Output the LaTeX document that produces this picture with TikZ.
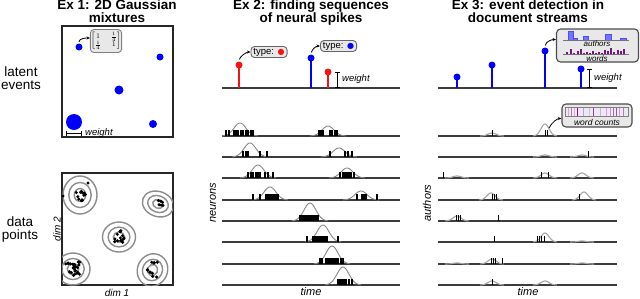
\documentclass[tikz,border=0pt]{standalone}
\usepackage{amsmath}
\usepackage{fontspec}
\setmainfont{Liberation Sans}
\newfontfamily\dejavu{DejaVu Sans}
\usetikzlibrary{arrows.meta}
\definecolor{myblue}{RGB}{0,0,255}
\definecolor{myred}{RGB}{245,20,20}
\definecolor{basec}{RGB}{60,60,60}
\definecolor{bumpc}{RGB}{135,135,135}
\definecolor{bumpl}{RGB}{165,165,165}
\definecolor{purp}{RGB}{120,20,130}
\definecolor{boxfill}{RGB}{232,232,232}
\newcommand\spikes[3]{\foreach \xx in {#2} \draw[#3] (\xx,#1) -- ++(0,-6.5);}
\newcommand\pbump[5]{\draw[#5] plot[domain=#2-3*#4:#2+3*#4, samples=40, smooth] (\x,{#1-#3*exp(-((\x-#2)/#4)^2/2)});}
\newcommand\clust[8]{%
  \begin{scope}[rotate around={#5:(#1,#2)}]
    \foreach \s in {1,0.66,0.34} \draw[ring] (#1,#2) ellipse [x radius=\s*#3, y radius=\s*#4];
  \end{scope}
  \foreach \i in {1,...,#6}{%
    \pgfmathsetmacro\dx{rand*#7}%
    \pgfmathsetmacro\dy{rand*#8}%
    \fill (#1+\dx,#2+\dy) circle (1.7);}}
\begin{document}
\begin{tikzpicture}[x=1pt,y=-1pt,
  title/.style={font=\fontsize{13.5}{13}\selectfont\bfseries, align=center, anchor=north, inner sep=0},
  rowlab/.style={font=\fontsize{13.5}{13}\selectfont, align=center, inner sep=0},
  axlab/.style={font=\fontsize{11}{11}\selectfont\itshape, inner sep=0},
  dimlab/.style={font=\fontsize{10}{10}\selectfont\itshape, inner sep=0},
  wlab/.style={font=\fontsize{9.5}{10}\selectfont\itshape, inner sep=0, anchor=west},
  frame/.style={draw=black!85, line width=1.1},
  base/.style={draw=basec, line width=1.1},
  bumpline/.style={draw=bumpc, line width=0.9},
  bumplight/.style={draw=bumpl, line width=1.1},
  spk/.style={black, line width=1.3},
  spkthin/.style={black, line width=0.9},
  ring/.style={draw=black!45, line width=1.4},
  bdot/.style={circle, fill=myblue, inner sep=0, minimum size=7},
  rdot/.style={circle, fill=myred, inner sep=0, minimum size=7},
  stemb/.style={draw=myblue, line width=1.6},
  stemr/.style={draw=myred, line width=1.6},
  arr/.style={-{Stealth[length=3.5pt,width=3pt]}, line width=0.8, black},
  wbar/.style={{Bar[width=5pt]}-{Bar[width=5pt]}, line width=0.9, black},
  typebox/.style={draw=black!60, fill=boxfill, rounded corners=3.5, line width=0.9, inner xsep=2.5, inner ysep=1, minimum height=11, font=\fontsize{9.5}{10}\selectfont},
  bigbox/.style={draw=black!70, fill=boxfill, rounded corners=4, line width=1.1, inner sep=0}
]
\useasboundingbox (0,0) rectangle (640,298);

% titles
\node[title] (t1) at (117,-0.5) {Ex 1: 2D Gaussian\\mixtures};
\node[title] (t2) at (311,-0.5) {Ex 2: finding sequences\\of neural spikes};
\node[title] (t3) at (528,-0.5) {Ex 3: event detection in\\document streams};

% row labels
\node[rowlab] (l1) at (21,78.5) {latent\\events};
\node[rowlab] (l2) at (20,230) {data\\points};

% ---------- panel 1 top ----------
\draw[frame] (62,26) rectangle (173,137);
\node[bdot, minimum size=7] (d1) at (79,47) {};
\node[bdot, minimum size=7] (d2) at (160,57) {};
\node[bdot, minimum size=9] (d3) at (119,90) {};
\node[bdot, minimum size=16] (d4) at (74,122) {};
\node[bdot, minimum size=8] (d5) at (153,124) {};
\node[draw=black!50, fill=boxfill, rounded corners=3.5, line width=0.9, minimum width=30, minimum height=23, inner sep=0.5,
      font=\fontsize{7}{8}\selectfont] (mb) at (106,41)
  {$\left[\begin{matrix}1&\frac{1}{4}\\\frac{1}{4}&1\end{matrix}\right]$};
\draw[arr, shorten <=1.5pt] (d1.north) .. controls +(0,-5) and +(-4,0) .. ([yshift=3pt]mb.west);
\coordinate (w1a) at (66,133);
\coordinate (w1b) at (82,133);
\draw[wbar] (w1a) -- (w1b);
\node[wlab] (w1) at (85,133) {weight};

% ---------- panel 1 bottom ----------
\draw[frame] (62,173) rectangle (173,285);
\begin{scope}
  \clip (62,173) rectangle (173,285);
  \pgfmathsetseed{11}
  \clust{80}{195}{17}{19}{0}{12}{6}{7}
  \clust{158}{204}{16}{12.5}{-20}{6}{5}{4}
  \clust{119}{237}{16.5}{15}{0}{15}{5.5}{7.5}
  \clust{73}{269}{17}{16}{0}{26}{7.5}{7.5}
  \clust{152.5}{270}{15}{16.5}{-25}{11}{5}{8}
  \fill (63,196) circle (1.7);
  \fill (88,183) circle (1.7);
\end{scope}
\node[dimlab, rotate=90] (dim2) at (57,229) {dim 2};
\node[dimlab] (dim1) at (117,293) {dim 1};

% ---------- panel 2 top ----------
\draw[base] (222,88) -- (400,88);
\draw[stemr] (239,88) -- (239,65);
\draw[stemb] (311,88) -- (311,58);
\draw[stemr] (328,88) -- (328,72);
\node[rdot] (r1) at (239,65) {};
\node[bdot] (b1) at (311,58) {};
\node[rdot] (r2) at (328,72) {};
\node[typebox] (tr) at (269,52) {type: \textcolor{myred}{\dejavu\fontsize{8}{8}\selectfont ●}};
\node[typebox] (tb) at (338.5,46) {type: \textcolor{myblue}{\dejavu\fontsize{8}{8}\selectfont ●}};
\draw[arr, shorten <=2pt] (r1.north) .. controls +(1,-5) and +(-4,0) .. (tr.west);
\draw[arr, shorten <=2pt] (b1.north) .. controls +(1,-5) and +(-4,0) .. (tb.west);
\coordinate (w2a) at (337,72);
\coordinate (w2b) at (337,88);
\draw[wbar] (w2a) -- (w2b);
\node[wlab] (w2) at (342,79) {weight};

% ---------- panel 2 rows ----------
\foreach \y in {136,157,178,200,221,242,264,285} \draw[base] (222,\y) -- (400,\y);
\pbump{136}{240}{13}{6}{bumpline}
\pbump{136}{328}{10}{6}{bumpline}
\pbump{157}{250}{14}{6}{bumpline}
\pbump{157}{339}{9}{6}{bumpline}
\pbump{178}{258}{13}{6}{bumpline}
\pbump{178}{347}{10}{6}{bumpline}
\pbump{200}{270}{13}{6}{bumpline}
\pbump{200}{361}{9}{6}{bumpline}
\pbump{221}{310}{18}{6}{bumpline}
\pbump{242}{323}{17}{6}{bumpline}
\pbump{264}{332}{18}{6}{bumpline}
\pbump{285}{343}{18}{6}{bumpline}
\spikes{136}{226,229,234,236,238,241,243,246,248,251,253,319,321,323,330,332,335,337}{spk}
\spikes{157}{243,246,248,260,267,330,345,348,352}{spk}
\spikes{178}{248,251,253,256,258,260,265,268,273,340,343,345,347,349,351,354}{spk}
\spikes{200}{253,260,266,268,270,272,274,276,278,357,362,364,366,377}{spk}
\spikes{221}{300,302,304,306,308,310,312,314,316,318}{spk}
\spikes{242}{307,313,315,317,319,321,323,325,327,338}{spk}
\spikes{264}{320,322,326,328,330,332,334,336,338,341,343}{spk}
\spikes{285}{338,340,342,344,346,349,352}{spk}
\node[axlab, rotate=90] (neu) at (213,203) {neurons};
\node[axlab] (time2) at (311,292) {time};

% ---------- panel 3 top ----------
\draw[base] (438,88) -- (617,88);
\draw[stemb] (457,88) -- (457,77);
\draw[stemb] (492,88) -- (492,65);
\draw[stemb] (545,88) -- (545,51);
\draw[stemb] (581,88) -- (581,69);
\node[bdot] (e1) at (457,77) {};
\node[bdot] (e2) at (492,65) {};
\node[bdot] (e3) at (545,51) {};
\node[bdot] (e4) at (581,69) {};
\coordinate (w3a) at (589,69);
\coordinate (w3b) at (589,88);
\draw[wbar] (w3a) -- (w3b);
\node[wlab] (w3) at (594,78) {weight};

\node[bigbox, minimum width=82, minimum height=33] (bb) at (597.5,45.5) {};
\draw[arr, shorten <=2pt] (e3.north) .. controls +(1,-6) and +(-4,0) .. ([yshift=6pt]bb.west);
% authors histogram
\foreach \a/\b/\h in {568/573/9,573/577/1.5,583/588/3.5,605/611/6,620/626/2}
  \fill[myblue!55, draw=myblue!70, line width=0.3] (\a,40) rectangle (\b,40-\h);
\draw[black!55, line width=0.8] (563,40) -- (629,40);
\node[font=\fontsize{8}{8}\selectfont\itshape, inner sep=0] (aut) at (597,44) {authors};
% words histogram
\foreach \x/\h in {567/2,571/5,574/1,578/3,581/5,584/1,587/2,590/1,593/3,596/1,599/2,602/1,605/4,608/3,611/6,614/2,618/4,621/3,624/5}
  \fill[purp] (\x-0.6,54) rectangle (\x+0.6,54-\h);
\draw[black!55, line width=0.8] (563,54) -- (629,54);
\node[font=\fontsize{8}{8}\selectfont\itshape, inner sep=0] (wor) at (597,59) {words};

% ---------- panel 3 rows ----------
\foreach \y in {136,157,178,200,221,242,264,285} \draw[base] (438,\y) -- (617,\y);
\pbump{136}{492}{3}{4}{bumplight}
\pbump{136}{545}{12}{4}{bumplight}
\pbump{157}{545}{2}{4}{bumplight}
\pbump{157}{582}{2}{4}{bumplight}
\pbump{178}{457}{2}{4}{bumplight}
\pbump{178}{545}{5}{4}{bumplight}
\pbump{178}{582}{5}{4}{bumplight}
\pbump{200}{491}{7}{4}{bumplight}
\pbump{200}{584}{8}{4}{bumplight}
\pbump{221}{457}{5}{4}{bumplight}
\pbump{242}{545}{9}{4}{bumplight}
\pbump{242}{582}{1}{4}{bumplight}
\pbump{264}{457}{1}{4}{bumplight}
\pbump{264}{492}{5}{4}{bumplight}
\pbump{264}{582}{1}{4}{bumplight}
\pbump{285}{492}{4}{4}{bumplight}
\pbump{285}{545}{4}{4}{bumplight}
\spikes{136}{492,545,547}{spkthin}
\spikes{157}{588}{spkthin}
\spikes{178}{443,541,548}{spkthin}
\spikes{200}{492,494,496,579}{spkthin}
\spikes{221}{456,458,460,498}{spkthin}
\spikes{242}{494,537,539,541,544}{spkthin}
\spikes{264}{491,493,495,502}{spkthin}
\spikes{285}{492}{spkthin}
\node[axlab, rotate=90] (aut2) at (427,203) {authors};
\node[axlab] (time3) at (528,292) {time};

% word counts box
\node[bigbox, minimum width=70, minimum height=23] (wc) at (597,115.5) {};
\fill[myblue!8!purp!10] (565,107) rectangle (628,116);
\foreach \x/\o in {568/0.3,571/0.5,574/0.25,577/1,583/0.35,589/0.2,593/0.8,600/0.25,606/0.3,610/0.4,613/0.6,616/0.7,619/0.35,623/0.5}
  \draw[purp, opacity=\o, line width=0.9] (\x,107) -- (\x,116);
\draw[black!50, line width=0.5] (565,107) rectangle (628,116);
\node[font=\fontsize{8.5}{8.5}\selectfont\itshape, inner sep=0] (wct) at (597,122) {word counts};
\coordinate (wcs) at (549,128);
\draw[arr] (wcs) .. controls +(3,-6) and +(-4,0) .. ([yshift=-3pt]wc.west);
\end{tikzpicture}
\end{document}
